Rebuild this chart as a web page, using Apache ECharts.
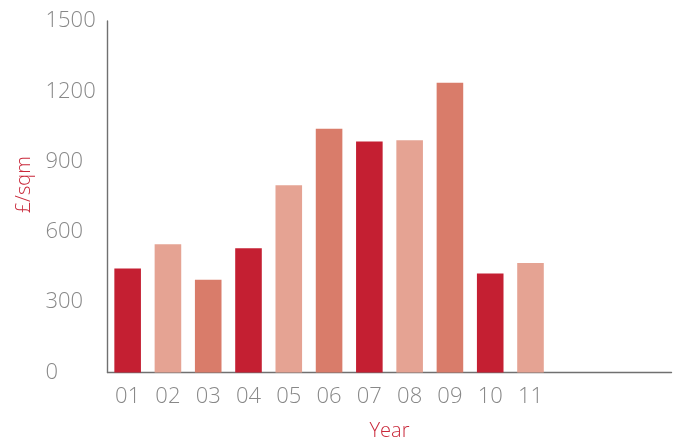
<!DOCTYPE html>
<html>
<head>
<meta charset="utf-8">
<script src="https://cdn.jsdelivr.net/npm/echarts@6/dist/echarts.min.js"></script>
<style>
  html, body { margin: 0; padding: 0; background: #fff; }
  #chart { width: 680px; height: 448px; }
</style>
</head>
<body>
<div id="chart"></div>
<script>
// Year labels (the axis runs on past the last year with three blank slots)
const years = ['01', '02', '03', '04', '05', '06', '07', '08', '09', '10', '11'];
const blankSlots = ['', '', ''];
// Price per square metre for each year
const values = [444, 547, 396, 530, 799, 1040, 986, 991, 1236, 423, 467];
// Value axis ticks
const yTicks = [0, 300, 600, 900, 1200, 1500];

// Bars cycle through three shades of red
const palette = ['#C41F32', '#E5A393', '#D97C6A'];

const labelFont = "'Open Sans', 'Noto Sans', sans-serif";

const chart = echarts.init(document.getElementById('chart'), null, { renderer: 'canvas' });
chart.setOption({
  animation: false,
  grid: { left: 107.5, right: 8.5, top: 21, bottom: 75.5 },
  xAxis: {
    type: 'category',
    data: years.concat(blankSlots),
    axisLine: { lineStyle: { color: '#707070', width: 1.4 } },
    axisTick: { show: false },
    axisLabel: {
      color: '#888888', fontSize: 22, fontWeight: 300, fontFamily: labelFont,
      margin: 13, interval: 0
    },
    name: 'Year',
    nameLocation: 'middle',
    nameGap: 49,
    nameTextStyle: { color: '#C9283A', fontSize: 20, fontWeight: 300, fontFamily: labelFont }
  },
  yAxis: {
    type: 'value',
    min: yTicks[0],
    max: yTicks[yTicks.length - 1],
    interval: yTicks[1] - yTicks[0],
    axisLine: { show: true, lineStyle: { color: '#707070', width: 1.4 } },
    axisTick: { show: false },
    splitLine: { show: false },
    axisLabel: {
      color: '#888888', fontSize: 22, fontWeight: 300, fontFamily: labelFont,
      align: 'left', margin: 62,
      formatter: (v) => String(v)
    },
    name: '£/sqm',
    nameLocation: 'middle',
    nameGap: 71,
    nameRotate: 90,
    nameTextStyle: {
      color: '#C9283A', fontSize: 20, fontWeight: 300, fontFamily: labelFont,
      padding: [0, 0, 0, 24]
    }
  },
  series: [{
    type: 'bar',
    barWidth: '66%',
    data: values.map((v, i) => ({ value: v, itemStyle: { color: palette[i % palette.length] } }))
  }]
});
</script>
</body>
</html>
